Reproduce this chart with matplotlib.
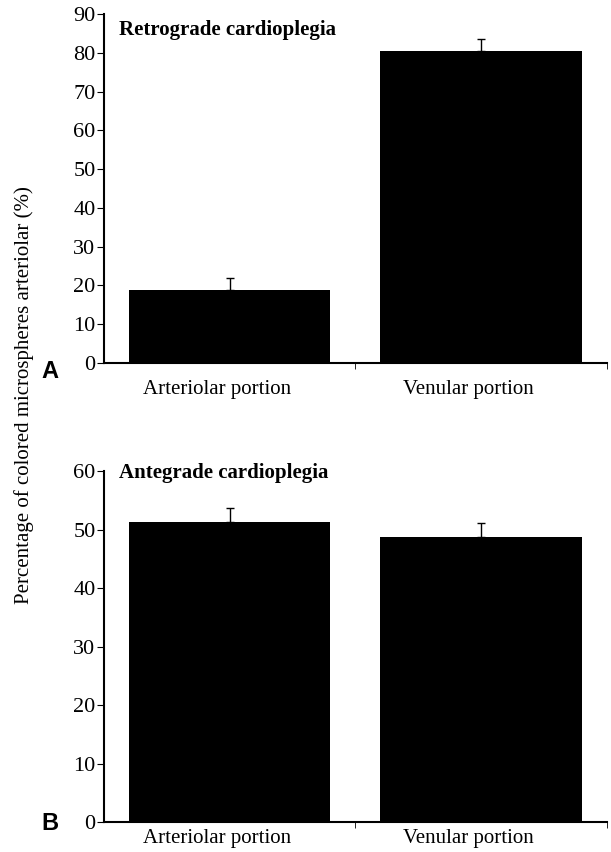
import matplotlib.pyplot as plt
import matplotlib.transforms as mtransforms
import numpy as np

# data
categories = ["Arteriolar portion", "Venular portion"]
retro_means = [18.9, 80.4]
retro_sem = [3.1, 3.1]
ante_means = [51.3, 48.7]
ante_sem = [2.4, 2.4]

plt.rcParams['font.family'] = ['Liberation Serif', 'DejaVu Serif']

fig = plt.figure(figsize=(6.11, 8.52), dpi=100)
ax1 = fig.add_axes([0.170, 0.574, 0.823, 0.4095])
ax2 = fig.add_axes([0.170, 0.0352, 0.823, 0.4118])


def draw_panel(ax, means, errs, ymax, title, title_y, letter, letter_y, pad):
    x = np.arange(len(categories))
    ax.bar(x, means, width=0.8, color='black', zorder=2)
    lower = [0] * len(errs)
    ax.errorbar(x, means, yerr=[lower, errs], fmt='none', ecolor='black',
                elinewidth=1, capsize=3, capthick=1, zorder=1)
    ax.set_xlim(-0.5, 1.5)
    ax.set_ylim(0, ymax)
    ax.set_yticks(np.arange(0, ymax + 1, 10))
    ax.set_xticks(x)
    ax.set_xticklabels(categories, fontsize=15)
    ax.tick_params(axis='x', length=0, pad=pad)
    # labels sit a little left of the bar centres
    shift = mtransforms.ScaledTranslation(-0.13, 0, fig.dpi_scale_trans)
    for lab in ax.get_xticklabels():
        lab.set_transform(lab.get_transform() + shift)
    ax.set_xticks([0.5, 1.5], minor=True)
    ax.tick_params(axis='x', which='minor', length=4, direction='out')
    ax.tick_params(axis='y', length=5, direction='out', labelsize=16, pad=1)
    for s in ['top', 'right']:
        ax.spines[s].set_visible(False)
    for s in ['left', 'bottom']:
        ax.spines[s].set_linewidth(1.5)
    ax.text(0.03, title_y, title, transform=ax.transAxes, fontsize=15,
            fontweight='bold', va='center', ha='left')
    ax.text(-0.125, letter_y, letter, transform=ax.transAxes, fontsize=17,
            fontweight='bold', family=['Liberation Sans', 'DejaVu Sans'],
            va='center', ha='left')


draw_panel(ax1, retro_means, retro_sem, 90, "Retrograde cardioplegia", 0.955,
           "A", -0.025, 12)
draw_panel(ax2, ante_means, ante_sem, 60, "Antegrade cardioplegia", 0.995,
           "B", -0.005, 5)

fig.text(0.040, 0.536, "Percentage of colored microspheres arteriolar (%)",
         rotation=90, va='center', ha='center', fontsize=15)

plt.savefig("out.png", dpi=100)
